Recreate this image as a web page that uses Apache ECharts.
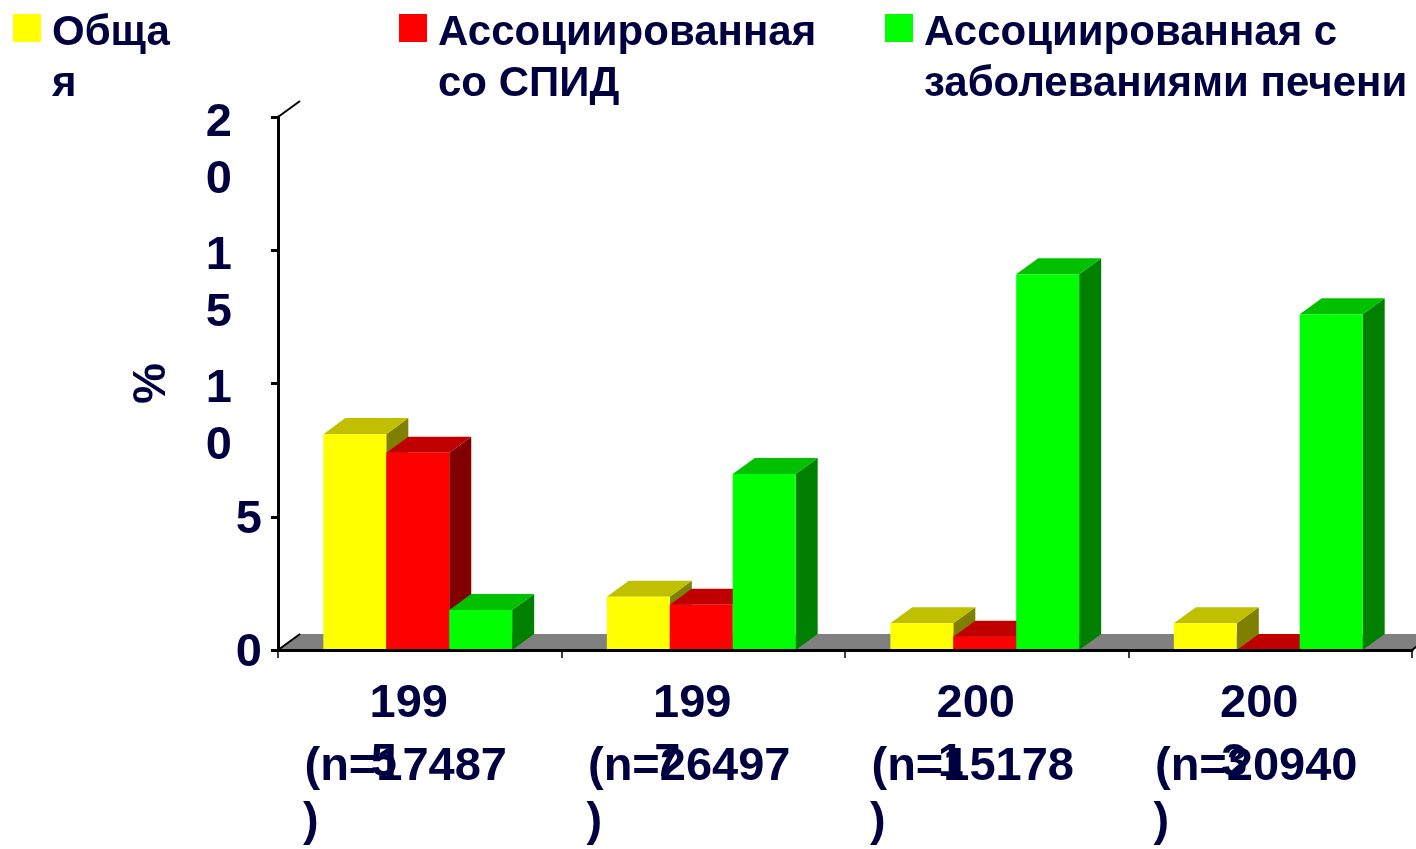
<!DOCTYPE html>
<html>
<head>
<meta charset="utf-8">
<script src="https://cdn.jsdelivr.net/npm/echarts@6/dist/echarts.min.js"></script>
<style>
html,body{margin:0;padding:0;background:#fff;}
#chart{width:1416px;height:849px;}
</style>
</head>
<body>
<div id="chart"></div>
<script>
// ---- data ----
const years = ['1995', '1997', '2001', '2003'];
const counts = [17487, 26497, 15178, 20940];
const seriesNames = ['Общая', 'Ассоциированная со СПИД', 'Ассоциированная с заболеваниями печени'];
const legendLines = [['Обща', 'я'], ['Ассоциированная', 'со СПИД'], ['Ассоциированная с', 'заболеваниями печени']];
const totalValues = [8.1, 2.0, 1.0, 1.0];
const aidsValues = [7.4, 1.7, 0.5, 0.0];
const liverValues = [1.5, 6.6, 14.1, 12.6];
const yTicks = { min: 0, max: 20, interval: 5 };

const frontColors = ['#FFFF00', '#FF0000', '#00FF00'];
const topColors = ['#C0C000', '#C00000', '#00C000'];
const sideColors = ['#808000', '#800000', '#008000'];
const TXT = '#000040';
const FONT = 'Liberation Sans, Arial, sans-serif';

const chart = echarts.init(document.getElementById('chart'));

function barSeries(k, values) {
  return {
    type: 'custom',
    name: seriesNames[k],
    coordinateSystem: 'cartesian2d',
    itemStyle: { color: frontColors[k] },
    data: values.map((v, i) => [i, v]),
    encode: { x: 0, y: 1 },
    z: 5,
    renderItem: function (params, api) {
      const idx = api.value(0), v = api.value(1);
      const base = api.coord([idx, 0]);
      const top = api.coord([idx, v]);
      const cw = api.size([1, 0])[0];
      const bw = cw * 0.222;
      const dx = bw * 0.35, dy = dx * 0.727;
      const x0 = base[0] + (k - 1.5) * bw - 2;
      const yb = base[1], yt = top[1];
      return {
        type: 'group',
        children: [
          { type: 'polygon', shape: { points: [[x0 + bw, yt], [x0 + bw + dx, yt - dy], [x0 + bw + dx, yb - dy], [x0 + bw, yb]] }, style: { fill: sideColors[k] } },
          { type: 'polygon', shape: { points: [[x0, yt], [x0 + bw, yt], [x0 + bw + dx, yt - dy], [x0 + dx, yt - dy]] }, style: { fill: topColors[k] } },
          { type: 'rect', shape: { x: x0, y: yt, width: bw, height: yb - yt }, style: { fill: frontColors[k] } }
        ]
      };
    }
  };
}

const floorSeries = {
  type: 'custom',
  name: 'floor',
  coordinateSystem: 'cartesian2d',
  data: [[0, 0]],
  encode: { x: 0, y: 1 },
  silent: true,
  z: 1,
  renderItem: function (params, api) {
    const cs = params.coordSys;
    const cw = api.size([1, 0])[0];
    const dx = cw * 0.222 * 0.35, dy = dx * 0.727;
    const xl = cs.x, xr = cs.x + cs.width, yb = cs.y + cs.height, yt = cs.y;
    return {
      type: 'group',
      children: [
        { type: 'polygon', shape: { points: [[xl, yb], [xr, yb], [xr + dx, yb - dy], [xl + dx, yb - dy]] }, style: { fill: '#808080' } },
        { type: 'line', shape: { x1: xl, y1: yb, x2: xl + dx, y2: yb - dy }, style: { stroke: '#000', lineWidth: 2 } },
        { type: 'line', shape: { x1: xr, y1: yb, x2: xr + dx, y2: yb - dy }, style: { stroke: '#000', lineWidth: 2 } },
        { type: 'line', shape: { x1: xl, y1: yt, x2: xl + dx, y2: yt - dy }, style: { stroke: '#000', lineWidth: 2 } }
      ]
    };
  }
};

function labelAxis(fmt, margin, shift, main) {
  return {
    type: 'category',
    data: years,
    gridIndex: 0,
    position: 'bottom',
    boundaryGap: true,
    z: 10,
    axisLine: main ? { show: true, lineStyle: { color: '#000', width: 3 } } : { show: false },
    axisTick: main ? { show: true, length: 8, lineStyle: { color: '#000', width: 1.5 } } : { show: false },
    splitLine: { show: false },
    axisLabel: {
      interval: 0,
      hideOverlap: false,
      margin: margin,
      verticalAlign: 'middle',
      align: 'center',
      padding: [0, shift * 2, 0, 0],
      color: TXT,
      fontFamily: FONT,
      fontWeight: 'bold',
      fontSize: 47,
      formatter: fmt
    }
  };
}

const textBase = { color: TXT, fontFamily: FONT, fontWeight: 'bold' };

function legendFor(k, left) {
  return {
    data: [seriesNames[k]],
    left: left,
    top: -54,
    padding: 0,
    orient: 'horizontal',
    icon: 'rect',
    itemWidth: 28,
    itemHeight: 28,
    itemGap: 0,
    selectedMode: false,
    formatter: () => '\n' + legendLines[k].map(l => '{t|' + l + '}').join('\n'),
    textStyle: Object.assign({}, textBase, {
      fontSize: 42,
      lineHeight: 62,
      rich: { t: Object.assign({}, textBase, { fontSize: 42, lineHeight: 51, padding: [0, 0, 0, 6] }) }
    })
  };
}

function yLabelText(v) {
  const s = String(v);
  return s.length > 1 ? '{a|' + s[0] + '}\n{b|' + s.slice(1) + '}' : '{s|' + s + '}';
}

function valueAxis(showName, maxOnly) {
  return {
    type: 'value',
    min: yTicks.min,
    max: yTicks.max,
    interval: yTicks.interval,
    position: 'left',
    offset: 0,
    z: 10,
    name: showName ? '%' : '',
    nameLocation: 'middle',
    nameRotate: 90,
    nameGap: 103,
    nameTextStyle: Object.assign({}, textBase, { fontSize: 46 }),
    axisLine: { show: true, lineStyle: { color: '#000', width: 3 } },
    axisTick: { show: true, length: 7, lineStyle: { color: '#000', width: 3 } },
    splitLine: { show: false },
    axisLabel: Object.assign({}, textBase, {
      margin: 16,
      hideOverlap: false,
      showMaxLabel: maxOnly ? true : false,
      showMinLabel: maxOnly ? false : true,
      verticalAlign: 'top',
      fontSize: 47,
      lineHeight: 6,
      rich: {
        s: Object.assign({}, textBase, { fontSize: 47, lineHeight: 6 }),
        a: Object.assign({}, textBase, { fontSize: 47, lineHeight: 12, padding: [0, 30, 0, 0] }),
        b: Object.assign({}, textBase, { fontSize: 47, lineHeight: 102, padding: [0, 30, 0, 0] })
      },
      formatter: maxOnly
        ? (v) => (v === yTicks.max ? yLabelText(v) : '')
        : (v) => yLabelText(v)
    })
  };
}

const option = {
  animation: false,
  backgroundColor: '#ffffff',
  legend: [legendFor(0, 13), legendFor(1, 399), legendFor(2, 885)],
  grid: { left: 278, right: 4, top: 117, bottom: 199, containLabel: false },
  xAxis: [
    labelAxis((y) => y.slice(0, 3), 54, 11, true),
    labelAxis((y, i) => '(n=' + counts[i], 117, 14, false),
    labelAxis((y) => y.slice(3), 113, 36, false),
    labelAxis(() => ')', 172, 109, false)
  ],
  yAxis: [valueAxis(true, false), valueAxis(false, true)],
  series: [
    floorSeries,
    barSeries(0, totalValues),
    barSeries(1, aidsValues),
    barSeries(2, liverValues)
  ]
};
chart.setOption(option);
</script>
</body>
</html>
